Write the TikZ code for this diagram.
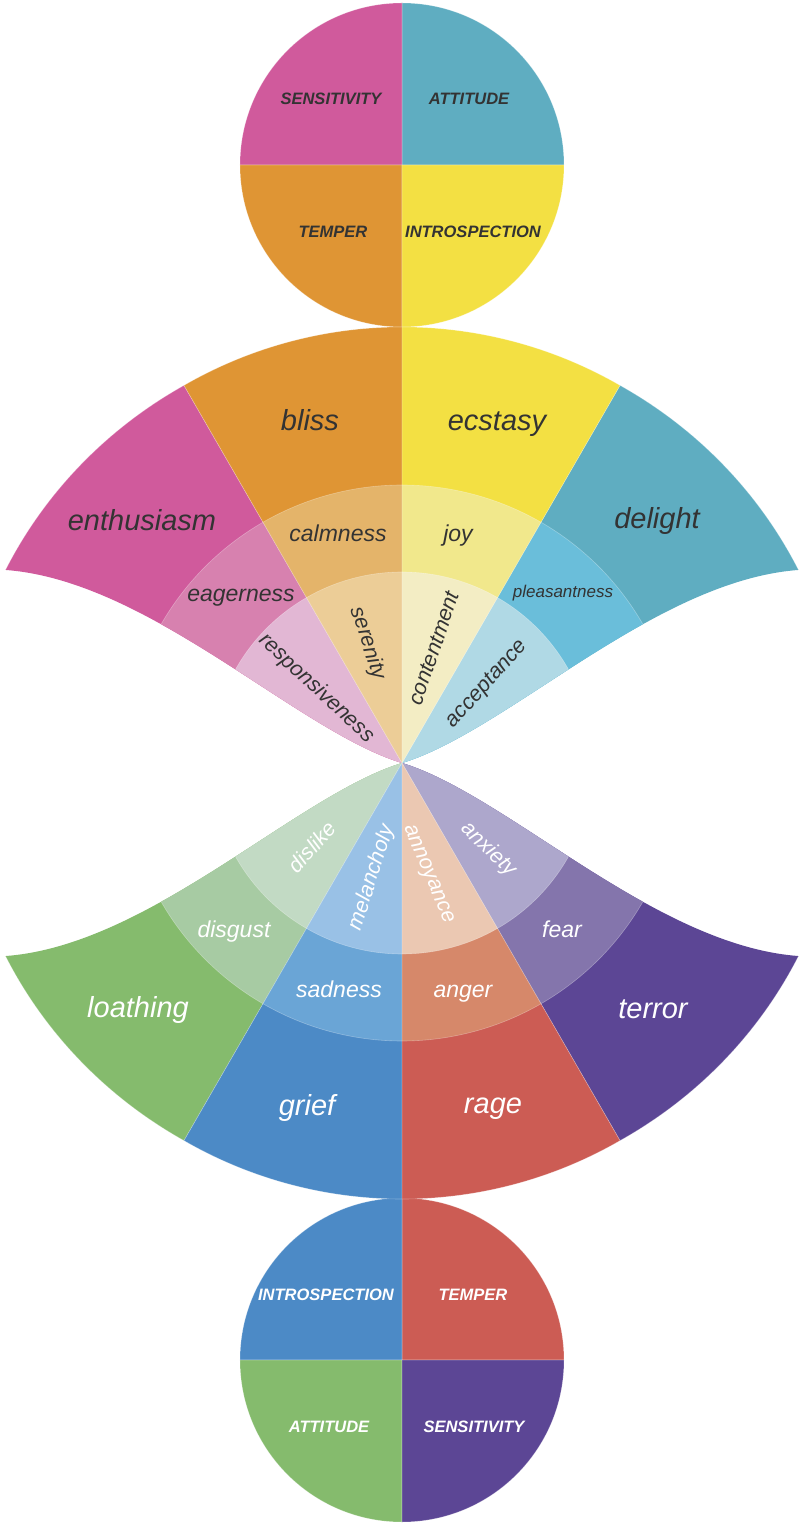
\documentclass[tikz,border=0pt]{standalone}
\usepackage{fontspec}
\setmainfont{Liberation Sans}
% palette
\definecolor{enthusiasm}{HTML}{D05A9C}
\definecolor{bliss}{HTML}{DF9534}
\definecolor{ecstasy}{HTML}{F3E043}
\definecolor{delight}{HTML}{5FADC1}
\definecolor{eagerness}{HTML}{D781AF}
\definecolor{calmness}{HTML}{E4B46A}
\definecolor{joy}{HTML}{F1E88C}
\definecolor{pleasantness}{HTML}{6ABEDA}
\definecolor{responsiveness}{HTML}{E2B7D4}
\definecolor{serenity}{HTML}{ECCD97}
\definecolor{contentment}{HTML}{F3EDC4}
\definecolor{acceptance}{HTML}{B0D9E5}
\definecolor{loathing}{HTML}{85BB6D}
\definecolor{grief}{HTML}{4C8AC6}
\definecolor{rage}{HTML}{CC5C54}
\definecolor{terror}{HTML}{5C4695}
\definecolor{disgust}{HTML}{A7CBA3}
\definecolor{sadness}{HTML}{6AA5D6}
\definecolor{anger}{HTML}{D6886A}
\definecolor{fear}{HTML}{8475AC}
\definecolor{dislike}{HTML}{C2DAC4}
\definecolor{melancholy}{HTML}{99C1E6}
\definecolor{annoyance}{HTML}{EBC8B2}
\definecolor{anxiety}{HTML}{ADA7CC}
\definecolor{ink}{HTML}{333333}
\tikzset{
  piece/.style={draw=white,draw opacity=.3,line width=.6pt},
  label box/.style={text depth=0pt,inner sep=0pt},
  big label/.style={label box,text height=21pt,font=\itshape\fontsize{29}{29}\selectfont},
  mid label/.style={label box,text height=16.5pt,font=\itshape\fontsize{23}{23}\selectfont},
  inner label/.style={label box,text height=15.5pt,font=\itshape\fontsize{21.5}{21.5}\selectfont},
  trait label/.style={label box,text height=12pt,font=\bfseries\itshape\fontsize{16.5}{16.5}\selectfont},
  dark text/.style={text=ink},
  light text/.style={text=white}
}
\begin{document}
\begin{tikzpicture}[x=1pt,y=1pt]
  \useasboundingbox (-402,-762) rectangle (404,763);
  % trait circles
  \foreach \a/\c in {0/delight,90/enthusiasm,180/bliss,270/ecstasy}
    \fill[piece,fill=\c] (0,598) -- ++(\a:162) arc[start angle=\a,delta angle=90,radius=162] -- cycle;
  \foreach \a/\c in {0/rage,90/grief,180/loathing,270/terror}
    \fill[piece,fill=\c] (0,-597) -- ++(\a:162) arc[start angle=\a,delta angle=90,radius=162] -- cycle;
  % fan, one quarter at a time
  \foreach \sx/\sy/\wa/\wb/\wc/\ma/\mb/\mc in {
      1/1/delight/pleasantness/acceptance/ecstasy/joy/contentment,
      -1/1/enthusiasm/eagerness/responsiveness/bliss/calmness/serenity,
      -1/-1/loathing/disgust/dislike/grief/sadness/melancholy,
      1/-1/terror/fear/anxiety/rage/anger/annoyance} {
    \begin{scope}[xscale=\sx,yscale=\sy]
      \clip (396,193) .. controls (252,182) and (105,32) .. (0,0)
        -- (0,600) -- (600,600) -- (600,193) -- cycle;
      \fill[piece,fill=\wa] (0,0) -- (60:436) arc[start angle=60,end angle=0,x radius=450,y radius=436] -- cycle;
      \fill[piece,fill=\ma] (0,0) -- (60:436) arc[start angle=60,end angle=90,radius=436] -- cycle;
      \foreach \r/\w/\m in {278/\wb/\mb,191/\wc/\mc} {
        \fill[piece,fill=\w] (0,0) -- (0:\r) arc[start angle=0,end angle=60,radius=\r] -- cycle;
        \fill[piece,fill=\m] (0,0) -- (60:\r) arc[start angle=60,end angle=90,radius=\r] -- cycle;
      }
    \end{scope}
  }
  % trait names
  \foreach \n/\x/\y in {SENSITIVITY/-71/664,ATTITUDE/67/664,TEMPER/-69/531,INTROSPECTION/71/531}
    \node[trait label,dark text] (top-\n) at (\x,\y) {\n};
  \foreach \n/\x/\y in {INTROSPECTION/-76/-531,TEMPER/71/-531,ATTITUDE/-73/-663,SENSITIVITY/72/-663}
    \node[trait label,light text] (bottom-\n) at (\x,\y) {\n};
  % upper fan
  \foreach \n/\x/\y in {bliss/-92/343,ecstasy/95/343,enthusiasm/-260/243,delight/255/245}
    \node[big label,dark text] (\n) at (\x,\y) {\n};
  \foreach \n/\x/\y in {calmness/-64/230,joy/56/230,eagerness/-161/170}
    \node[mid label,dark text] (\n) at (\x,\y) {\n};
  \node[label box,text height=12pt,font=\itshape\fontsize{17}{17}\selectfont,dark text] (pleasantness) at (161,171) {pleasantness};
  \foreach \n/\x/\y/\t in {serenity/-32/120/-72,responsiveness/-84/76/-43,contentment/31/115/71,acceptance/83/81/48}
    \node[inner label,dark text,rotate=\t] (\n) at (\x,\y) {\n};
  % lower fan
  \foreach \n/\x/\y in {loathing/-264/-244,grief/-95/-342,rage/91/-340,terror/251/-245}
    \node[big label,light text] (\n) at (\x,\y) {\n};
  \foreach \n/\x/\y in {disgust/-168/-166,sadness/-63/-226,anger/61/-226,fear/160/-166}
    \node[mid label,light text] (\n) at (\x,\y) {\n};
  \foreach \n/\x/\y/\t in {dislike/-90/-84/48,melancholy/-32/-114/72,annoyance/30/-110/-67,anxiety/88/-85/-44}
    \node[inner label,light text,rotate=\t] (\n) at (\x,\y) {\n};
\end{tikzpicture}
\end{document}
